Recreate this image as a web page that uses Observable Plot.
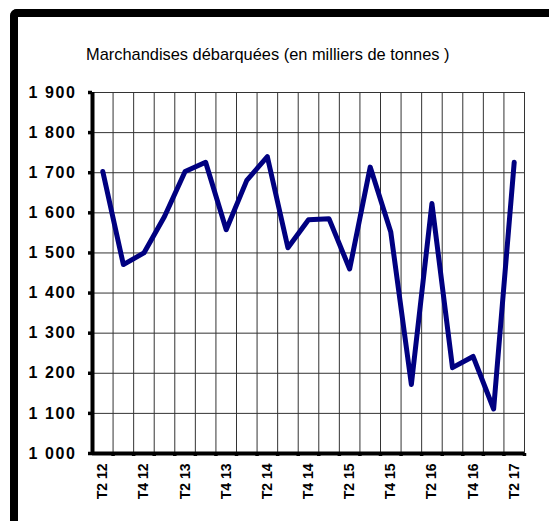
<!DOCTYPE html>
<html><head><meta charset="utf-8">
<script src="https://cdn.jsdelivr.net/npm/d3@7"></script>
<script src="https://cdn.jsdelivr.net/npm/@observablehq/plot@0.6"></script>
<style>
html,body{margin:0;padding:0;background:#fff;overflow:hidden;width:549px;height:521px;position:relative}
#frame{position:absolute;left:10px;top:9px;width:700px;height:700px;border-left:8px solid #000;border-top:8px solid #000;border-top-left-radius:7px;box-sizing:border-box}
#title{position:absolute;left:86px;top:45px;font-family:"Liberation Sans",Arial,sans-serif;font-size:16.4px;color:#000;white-space:nowrap}
#chart{position:absolute;left:0;top:0}
#chart g[aria-label="y-axis tick label"] text{letter-spacing:1.6px}
</style></head>
<body>
<div id="frame"></div>
<div id="title">Marchandises débarquées (en milliers de tonnes )</div>
<div id="chart"></div>
<script>
const quarters = ["T2 12","T3 12","T4 12","T1 13","T2 13","T3 13","T4 13","T1 14","T2 14","T3 14","T4 14","T1 15","T2 15","T3 15","T4 15","T1 16","T2 16","T3 16","T4 16","T1 17","T2 17"];
const values = [1703,1471,1500,1591,1703,1726,1558,1681,1740,1513,1583,1585,1460,1714,1552,1172,1623,1214,1242,1111,1726];
const yTicks = [1000,1100,1200,1300,1400,1500,1600,1700,1800,1900];
const labelIdx = [0,2,4,6,8,10,12,14,16,18,20];

const data = quarters.map((q, i) => ({i, q, v: values[i]}));
const bounds = d3.range(0.5, quarters.length, 1);
const fmt = d => d3.format(",")(d).replace(/,/g, " ");

const chart = Plot.plot({
  width: 549, height: 521,
  marginLeft: 92, marginRight: 25, marginTop: 92, marginBottom: 68,
  style: {fontFamily: "Liberation Sans, Arial, sans-serif", background: "transparent", color: "#000"},
  x: {domain: [-0.5, quarters.length - 0.5], label: null},
  y: {domain: [1000, 1900], label: null},
  marks: [
    Plot.ruleY(yTicks.slice(1), {stroke: "#333", strokeWidth: 1}),
    Plot.ruleX(bounds, {stroke: "#333", strokeWidth: 1}),
    Plot.axisY(yTicks, {label: null, tickSize: 4, strokeWidth: 3.5, tickPadding: 12, tickFormat: fmt, fontWeight: "bold", fontSize: 16}),
    Plot.axisX(bounds, {label: null, tickSize: 3, strokeWidth: 3.5, tickFormat: () => "", tickPadding: 0}),
    Plot.axisX(labelIdx, {label: null, tickSize: 0, tickRotate: -90, tickPadding: 10, tickFormat: i => quarters[i], fontWeight: "bold", fontSize: 14}),
    Plot.ruleX([-0.5], {stroke: "#000", strokeWidth: 4}),
    Plot.ruleY([1000], {stroke: "#000", strokeWidth: 4}),
    Plot.line(data, {x: "i", y: "v", stroke: "#000080", strokeWidth: 5, strokeLinejoin: "round", strokeLinecap: "round"})
  ]
});
document.getElementById("chart").appendChild(chart);
</script>
</body></html>
